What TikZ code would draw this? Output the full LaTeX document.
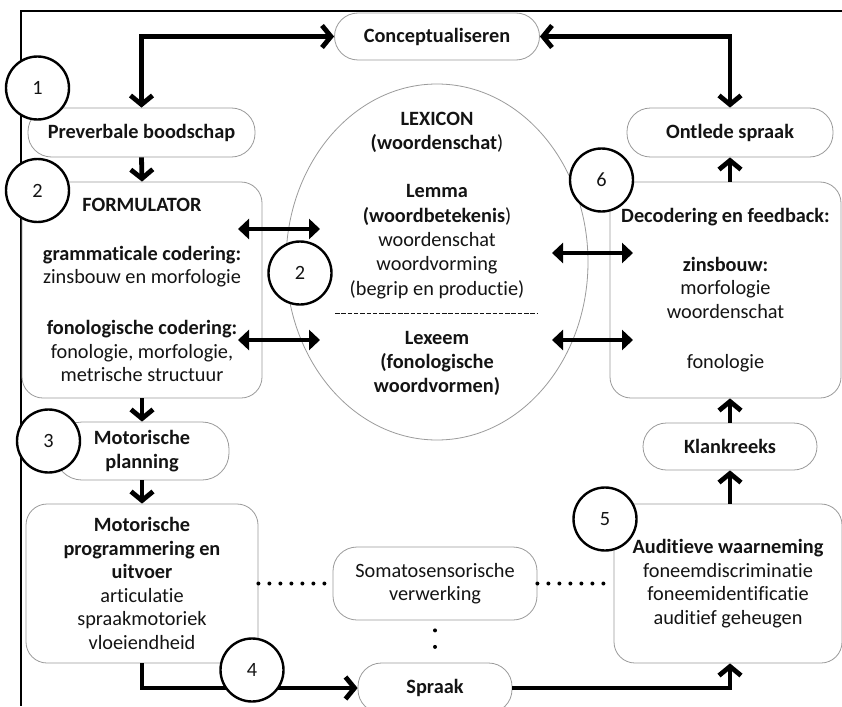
\documentclass[tikz,border=0pt]{standalone}
\usepackage{fontspec}
\setmainfont{Carlito}[Ligatures=NoCommon]
\usetikzlibrary{arrows.meta,shapes.geometric}
\definecolor{boxgray}{RGB}{155,155,155}
\definecolor{txtblack}{RGB}{20,20,20}
\newcommand\myfs{\fontsize{20.3}{23.5}\selectfont}
\begin{document}
\begin{tikzpicture}[x=1pt,y=-1pt,
  every node/.style={text=txtblack},
  boxshape/.style={draw=boxgray, line width=0.8pt, rounded corners=21pt, fill=white, inner sep=0pt, align=center, font=\myfs},
  pill/.style={boxshape, rounded corners=23.5pt},
  numcircle/.style={circle, draw=black, line width=2.4pt, fill=white, minimum size=63pt, inner sep=0pt, font=\myfs},
  flow/.style={line width=4.8pt, -{Straight Barb[length=9pt,width=22pt]}},
  bothflow/.style={line width=4.8pt, {Straight Barb[length=9pt,width=22pt]}-{Straight Barb[length=9pt,width=22pt]}},
  dbl/.style={line width=4.2pt, {Triangle[length=11pt,width=20pt]}-{Triangle[length=11pt,width=20pt]}},
  dotline/.style={line width=4pt, line cap=round, dash pattern=on 0pt off 11pt},
]
\useasboundingbox (0,0) rectangle (842,706);
\fill[white] (0,0) rectangle (842,706);
% frame
\draw[line width=2pt] (842,11) -- (21,11) -- (21,706);

% lexicon ellipse
\node[ellipse, draw=boxgray, line width=0.8pt, minimum width=302pt, minimum height=356pt, inner sep=0pt] (lex) at (437,262) {};
\node[align=center, inner sep=0pt, font=\fontsize{20.3}{24.3}\selectfont] (lextxt) at (437,254)
 {{\bfseries LEXICON}\\ {\bfseries (woordenschat})\\[23.7pt]
  {\bfseries Lemma}\\ {\bfseries (woordbetekenis})\\ woordenschat\\ woordvorming\\ (begrip en productie)\\[24.7pt]
  {\bfseries Lexeem}\\ {\bfseries (fonologische}\\ {\bfseries woordvormen)}};
\coordinate (dashL) at (335,313);
\coordinate (dashR) at (538,313);
\draw[line width=1pt, txtblack, dash pattern=on 4.5pt off 1.8pt] (dashL) -- (dashR);

% boxes
\node[pill, minimum width=205pt, minimum height=47pt, font=\myfs\bfseries] (concept) at (437,36.5) {Conceptualiseren};
\node[pill, minimum width=227pt, minimum height=49pt, font=\myfs\bfseries] (prev) at (141.5,132.5) {Preverbale boodschap};
\node[pill, minimum width=206pt, minimum height=49pt, font=\myfs\bfseries] (ontl) at (730,132.5) {Ontlede spraak};
\node[boxshape, minimum width=240pt, minimum height=216pt] (form) at (142,290)
 {{\bfseries FORMULATOR}\\[25.5pt]
  {\bfseries grammaticale codering:}\\ zinsbouw en morfologie\\[27.5pt]
  {\bfseries fonologische codering:}\\ fonologie, morfologie,\\ metrische structuur};
\node[boxshape, minimum width=231pt, minimum height=216pt] (decod) at (725.5,290)
 {{\bfseries Decodering en feedback:}\\[25.5pt]
  {\bfseries zinsbouw:}\\ morfologie\\ woordenschat\\[26.5pt] fonologie};
\node[pill, minimum width=174pt, minimum height=47pt, font=\myfs\bfseries] (klank) at (730,446.5) {Klankreeks};
\node[boxshape, minimum width=228pt, minimum height=159pt] (aud) at (728,583.5)
 {{\bfseries Auditieve waarneming}\\ foneemdiscriminatie\\ foneemidentificatie\\ auditief geheugen};
\node[boxshape, rounded corners=27pt, minimum width=174pt, minimum height=58pt, font=\myfs\bfseries] (plan) at (142,451) {Motorische\\ planning};
\node[boxshape, minimum width=232pt, minimum height=159pt] (prog) at (142,583.5)
 {{\bfseries Motorische}\\ {\bfseries programmering en}\\ {\bfseries uitvoer}\\ articulatie\\ spraakmotoriek\\ vloeiendheid};
\node[boxshape, rounded corners=24pt, minimum width=204pt, minimum height=73pt] (soma) at (435,583.5) {Somatosensorische\\ verwerking};
\node[pill, minimum width=154pt, minimum height=50pt, font=\myfs\bfseries] (spraak) at (435,688) {Spraak};

% flow connectors
\draw[bothflow] (prev.north) |- (concept.west);
\draw[bothflow] (concept.east) -| (ontl.north);
\draw[flow] (prev.south) -- (form.north);
\draw[flow] (form.south) -- (plan.north);
\draw[flow] (plan.south) -- (prog.north);
\draw[flow] (prog.south) |- (spraak.west);
\draw[flow] (spraak.east) -| (klank.south |- aud.south);
\draw[flow] (klank.south |- aud.north) -- (klank.south);
\draw[flow] (klank.north) -- (klank.north |- decod.south);
\draw[flow] (ontl.south |- decod.north) -- (ontl.south);

% double arrows to/from lexicon
\coordinate (fa1) at (238,229);
\coordinate (la1) at (320,229);
\coordinate (fa2) at (238,340);
\coordinate (la2) at (320,340);
\coordinate (lb1) at (552,253);
\coordinate (da1) at (633,253);
\coordinate (lb2) at (552,340);
\coordinate (da2) at (633,340);
\draw[dbl] (fa1) -- (la1);
\draw[dbl] (fa2) -- (la2);
\draw[dbl] (lb1) -- (da1);
\draw[dbl] (lb2) -- (da2);

% dotted links
\draw[dotline] (prog.east) -- (soma.west);
\draw[dotline, shorten >=3pt] (soma.east) -- (aud.west);
\draw[dotline, dash pattern=on 0pt off 16.5pt, dash phase=6.5pt] (soma.south) -- (spraak.north);

% numbered circles
\node[numcircle] (c1) at (37.5,88) {1};
\node[numcircle] (c2a) at (37.5,190.5) {2};
\node[numcircle] (c2b) at (300,273) {2};
\node[numcircle] (c3) at (48.5,441) {3};
\node[numcircle] (c4) at (252,670) {4};
\node[numcircle] (c5) at (605,519) {5};
\node[numcircle] (c6) at (601.5,180) {6};
\end{tikzpicture}
\end{document}
